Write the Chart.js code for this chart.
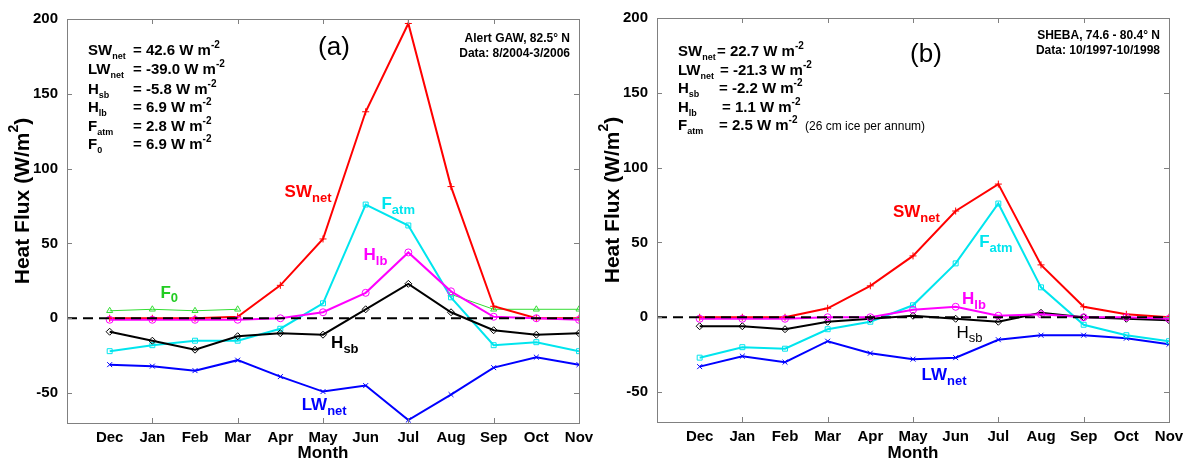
<!DOCTYPE html>
<html>
<head>
<meta charset="utf-8">
<script src="https://cdn.jsdelivr.net/npm/chart.js@4"></script>
<style>
  body { margin: 0; background: #fff; overflow: hidden; }
  #wrapA { position: absolute; left: 0; top: 0; width: 600px; height: 464px; }
  #wrapB { position: absolute; left: 590px; top: 0; width: 604px; height: 464px; }
</style>
</head>
<body>
<div id="wrapA"><canvas id="chartA"></canvas></div>
<div id="wrapB"><canvas id="chartB"></canvas></div>
<script>
const months = ["Dec", "Jan", "Feb", "Mar", "Apr", "May", "Jun", "Jul", "Aug", "Sep", "Oct", "Nov"];
const yTicks = [-50, 0, 50, 100, 150, 200];
const xTickMarks = [1, 3, 5, 7, 9];

// (a) Alert GAW
const swA = [0, 0, 0, 1, 22, 53, 138, 197, 88, 8, 0, 0];
const lwA = [-31, -32, -35, -28, -39, -49, -45, -68, -51, -33, -26, -31];
const hsbA = [-9, -15, -21, -12, -10, -11, 6, 23, 4, -8, -11, -10];
const hlbA = [-1, -1, -1, -1, 0, 4, 17, 44, 18, 1, 0, -1];
const fatmA = [-22, -18, -15, -15, -7, 10, 76, 62, 14, -18, -16, -22];
const f0A = [5, 6, 5, 6, null, null, null, null, 16, 6, 6, 6];

// (b) SHEBA
const swB = [0, 0, 0, 6, 21, 41, 71, 89, 35, 7, 2, 0];
const lwB = [-33, -26, -30, -16, -24, -28, -27, -15, -12, -12, -14, -18];
const hsbB = [-6, -6, -8, -3, -1, 1, -1, -3, 3, 0, -1, -2];
const hlbB = [-1, -1, -1, 0, 0, 5, 7, 1, 2, 0, 0, -1];
const fatmB = [-27, -20, -21, -8, -3, 8, 36, 76, 20, -5, -12, -16];

const statsA = [
  ["SW_{net}", "= 42.6 W m^{-2}"],
  ["LW_{net}", "= -39.0 W m^{-2}"],
  ["H_{sb}", "= -5.8 W m^{-2}"],
  ["H_{lb}", "= 6.9 W m^{-2}"],
  ["F_{atm}", "= 2.8 W m^{-2}"],
  ["F_{0}", "= 6.9 W m^{-2}"],
];
const statsB = [
  ["SW_{net}", "= 22.7 W m^{-2}"],
  ["LW_{net}", "= -21.3 W m^{-2}"],
  ["H_{sb}", "= -2.2 W m^{-2}"],
  ["H_{lb}", "= 1.1 W m^{-2}"],
  ["F_{atm}", "= 2.5 W m^{-2}"],
];

const FONT = '"Liberation Sans", Arial, sans-serif';
const RED = "#ff0000", BLUE = "#0000ff", CYAN = "#00e5ee", MAGENTA = "#ff00ff", GREEN = "#33dd33";

function series(values, color, style, width, order) {
  return {
    data: values.map(function (v, i) { return { x: i, y: v }; }),
    borderColor: color,
    backgroundColor: "rgba(0,0,0,0)",
    pointBorderColor: color,
    pointBackgroundColor: "rgba(0,0,0,0)",
    borderWidth: width,
    pointStyle: style,
    pointRadius: 3.5,
    pointBorderWidth: 1,
    tension: 0,
    spanGaps: false,
    order: order,
  };
}

function zeroLine() {
  return {
    data: [{ x: -1, y: 0 }, { x: 11, y: 0 }],
    borderColor: "#000",
    borderDash: [10, 6],
    borderWidth: 2,
    pointRadius: 0,
    order: 0,
  };
}

// text with _{sub} and ^{sup}
function drawRich(ctx, str, x, y, size, weight, ratio) {
  const parts = str.split(/(_\{[^}]*\}|\^\{[^}]*\})/).filter(function (p) { return p !== ""; });
  let cx = x;
  parts.forEach(function (p) {
    let fs = size, dy = 0, txt = p;
    if (p[0] === "_") { txt = p.slice(2, -1); fs = Math.round(size * ratio); dy = size * 0.35; }
    else if (p[0] === "^") { txt = p.slice(2, -1); fs = Math.round(size * ratio); dy = -size * 0.4; }
    ctx.font = weight + " " + fs + "px " + FONT;
    ctx.fillText(txt, cx, y + dy);
    cx += ctx.measureText(txt).width;
  });
  return cx;
}

function richWidth(ctx, str, size, weight, ratio) {
  ctx.save();
  ctx.globalAlpha = 0;
  const w = drawRich(ctx, str, 0, 0, size, weight, ratio);
  ctx.restore();
  return w;
}

function makeNotes(cfg) {
  return {
    id: "notes",
    afterDatasetsDraw: function (chart) {
      const ctx = chart.ctx;
      const a = chart.chartArea;
      const xs = chart.scales.x, ys = chart.scales.y;
      ctx.save();
      // box + inward ticks
      ctx.strokeStyle = "#808080";
      ctx.lineWidth = 1;
      ctx.strokeRect(a.left + 0.5, a.top + 0.5, a.right - a.left, a.bottom - a.top);
      ctx.beginPath();
      xTickMarks.forEach(function (v) {
        const px = Math.round(xs.getPixelForValue(v)) + 0.5;
        ctx.moveTo(px, a.bottom); ctx.lineTo(px, a.bottom - 5);
        ctx.moveTo(px, a.top); ctx.lineTo(px, a.top + 5);
      });
      yTicks.forEach(function (v) {
        const py = Math.round(ys.getPixelForValue(v)) + 0.5;
        ctx.moveTo(a.left, py); ctx.lineTo(a.left + 5, py);
        ctx.moveTo(a.right, py); ctx.lineTo(a.right - 5, py);
      });
      ctx.stroke();

      ctx.textBaseline = "middle";
      ctx.textAlign = "left";
      ctx.fillStyle = "#000";

      // y title, rotated
      const yTitle = "Heat Flux (W/m^{2})";
      const tw = richWidth(ctx, yTitle, 21, "bold", 0.65);
      ctx.save();
      ctx.translate(a.left - 44, a.top + 182);
      ctx.rotate(-Math.PI / 2);
      drawRich(ctx, yTitle, -tw / 2, 0, 21, "bold", 0.65);
      ctx.restore();

      // stats block
      cfg.stats.forEach(function (row, i) {
        const y = a.top + cfg.statsTop[i];
        drawRich(ctx, row[0], a.left + 21, y, 15, "bold", 0.6);
        drawRich(ctx, row[1], a.left + cfg.eqX[i], y, 15, "bold", 0.65);
      });
      if (cfg.extra) {
        ctx.font = "12px " + FONT;
        ctx.fillText(cfg.extra.text, a.left + cfg.extra.dx, a.top + cfg.extra.dy);
      }
      // panel tag
      ctx.textAlign = "center";
      ctx.font = "26px " + FONT;
      ctx.fillText(cfg.tag.text, a.left + cfg.tag.dx, a.top + cfg.tag.dy);
      // site info
      ctx.textAlign = "right";
      ctx.font = "bold 12px " + FONT;
      cfg.info.forEach(function (line, i) {
        ctx.fillText(line, a.right - 9, a.top + cfg.infoTop + i * 15);
      });
      // curve labels
      ctx.textAlign = "left";
      cfg.labels.forEach(function (l) {
        ctx.fillStyle = l.color;
        drawRich(ctx, l.text, xs.getPixelForValue(l.x), ys.getPixelForValue(l.y), 17, l.weight || "bold", 0.78);
      });
      ctx.restore();
    },
  };
}

function makeOptions(top, xHeight, rightPad) {
  const tickFont = { family: FONT, size: 15, weight: "bold" };
  return {
    responsive: true,
    maintainAspectRatio: false,
    animation: false,
    layout: { padding: { left: 0, right: rightPad, top: top, bottom: 0 } },
    plugins: { legend: { display: false }, tooltip: { enabled: false } },
    scales: {
      x: {
        type: "linear",
        min: -1,
        max: 11,
        grid: { display: false, drawTicks: false },
        border: { display: false },
        afterBuildTicks: function (s) { s.ticks = months.map(function (m, i) { return { value: i }; }); },
        ticks: {
          autoSkip: false,
          maxRotation: 0,
          padding: 6,
          color: "#000",
          font: tickFont,
          callback: function (v) { return months[v] || ""; },
        },
        title: { display: true, text: "Month", color: "#000", padding: 0, font: { family: FONT, size: 17, weight: "bold" } },
        afterFit: function (s) { s.height = xHeight; },
      },
      y: {
        min: -70,
        max: 200,
        grid: { display: false, drawTicks: false },
        border: { display: false },
        afterBuildTicks: function (s) { s.ticks = yTicks.map(function (v) { return { value: v }; }); },
        ticks: { padding: 9, color: "#000", font: tickFont },
        title: { display: false },
        afterFit: function (s) { s.width = 67; },
      },
    },
  };
}

new Chart(document.getElementById("chartA"), {
  type: "line",
  data: {
    datasets: [
      zeroLine(),
      series(hlbA, MAGENTA, "circle", 2, 1),
      series(swA, RED, "cross", 2, 2),
      series(hsbA, "#000", "rectRot", 2, 3),
      series(fatmA, CYAN, "rect", 2, 4),
      series(lwA, BLUE, "crossRot", 2, 5),
      series(f0A, GREEN, "triangle", 1, 6),
    ],
  },
  options: makeOptions(19, 41, 21),
  plugins: [makeNotes({
    stats: statsA,
    statsTop: [32, 51, 71, 89, 108, 126],
    eqX: [66, 66, 66, 66, 66, 66],
    tag: { text: "(a)", dx: 267, dy: 29 },
    infoTop: 20,
    info: ["Alert GAW, 82.5° N", "Data: 8/2004-3/2006"],
    labels: [
      { text: "SW_{net}", x: 4.1, y: 84, color: RED },
      { text: "F_{atm}", x: 6.37, y: 76, color: CYAN },
      { text: "H_{lb}", x: 5.95, y: 42, color: MAGENTA },
      { text: "F_{0}", x: 1.19, y: 17, color: "#22cc22" },
      { text: "H_{sb}", x: 5.19, y: -17, color: "#000" },
      { text: "LW_{net}", x: 4.5, y: -58, color: BLUE },
    ],
  })],
});

new Chart(document.getElementById("chartB"), {
  type: "line",
  data: {
    datasets: [
      zeroLine(),
      series(hlbB, MAGENTA, "circle", 2, 1),
      series(swB, RED, "cross", 2, 2),
      series(hsbB, "#000", "rectRot", 2, 3),
      series(fatmB, CYAN, "rect", 2, 4),
      series(lwB, BLUE, "crossRot", 2, 5),
    ],
  },
  options: makeOptions(17, 42, 25),
  plugins: [makeNotes({
    stats: statsB,
    statsTop: [34, 53, 71, 90, 108],
    eqX: [60, 63, 62, 65, 62],
    extra: { text: "(26 cm ice per annum)", dx: 148, dy: 109 },
    tag: { text: "(b)", dx: 269, dy: 37 },
    infoTop: 18,
    info: ["SHEBA, 74.6 - 80.4° N", "Data: 10/1997-10/1998"],
    labels: [
      { text: "SW_{net}", x: 4.53, y: 70, color: RED },
      { text: "F_{atm}", x: 6.55, y: 50, color: CYAN },
      { text: "H_{lb}", x: 6.15, y: 12, color: MAGENTA },
      { text: "H_{sb}", x: 6.02, y: -10.5, color: "#000", weight: "normal" },
      { text: "LW_{net}", x: 5.2, y: -39, color: BLUE },
    ],
  })],
});
</script>
</body>
</html>
